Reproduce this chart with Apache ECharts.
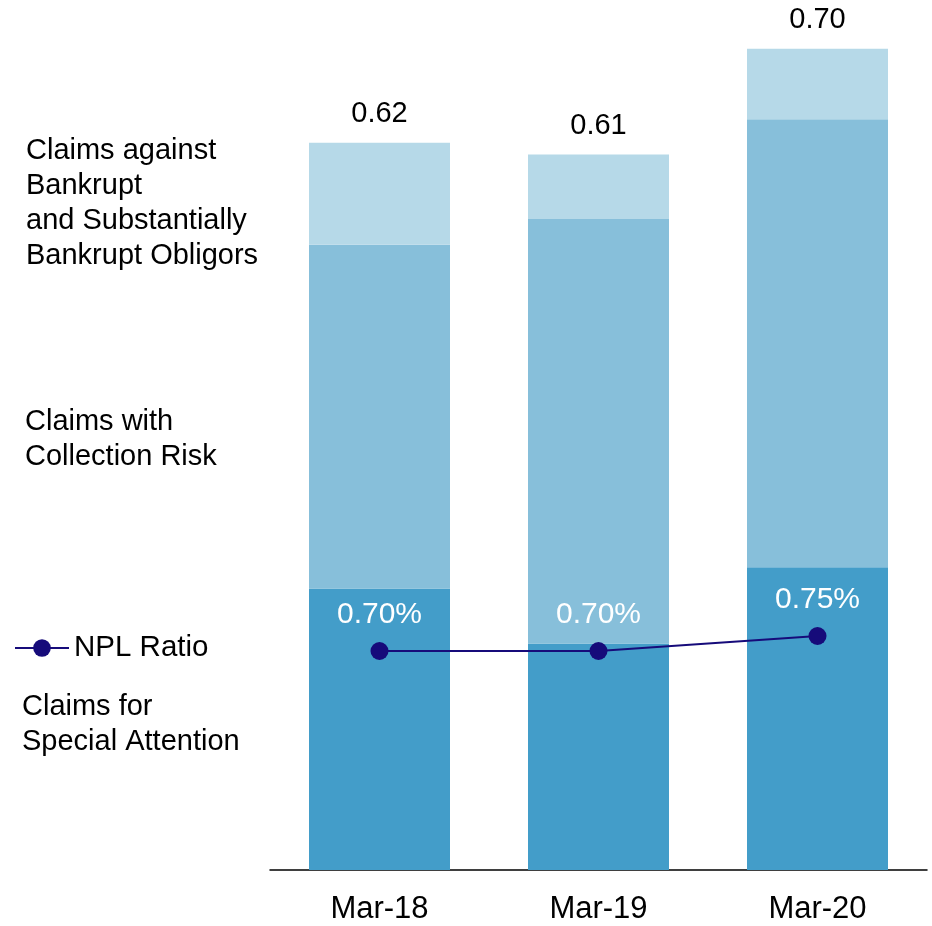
<!DOCTYPE html>
<html>
<head>
<meta charset="utf-8">
<script src="https://cdn.jsdelivr.net/npm/echarts@6/dist/echarts.min.js"></script>
<style>
  html, body { margin: 0; padding: 0; background: #ffffff; }
  #chart { width: 932px; height: 926px; }
</style>
</head>
<body>
<div id="chart"></div>
<script>
// Fiscal year-ends
const categories = ['Mar-18', 'Mar-19', 'Mar-20'];
// Non-performing loan components (trillion yen), stacked bottom to top
const specialAttention = [0.240, 0.193, 0.258];
const collectionRisk = [0.293, 0.362, 0.382];
const totals = [0.62, 0.61, 0.70];
const bankrupt = totals.map((t, i) => +(t - specialAttention[i] - collectionRisk[i]).toFixed(3));
// NPL ratio (%)
const nplRatio = [0.70, 0.70, 0.75];

const FONT = "'Liberation Sans', Arial, sans-serif";
const chart = echarts.init(document.getElementById('chart'));

chart.setOption({
  animation: false,
  backgroundColor: '#ffffff',
  textStyle: { fontFamily: FONT },
  grid: { left: 270, right: 5, top: 23, bottom: 56, containLabel: false },
  legend: {
    data: ['NPL Ratio'],
    left: 14, top: 633, padding: 0,
    itemWidth: 54, itemHeight: 22,
    textStyle: { fontSize: 29.5, color: '#000000', fontFamily: FONT },
    selectedMode: false
  },
  xAxis: {
    type: 'category',
    data: categories,
    axisLine: { lineStyle: { color: '#000000', width: 1.5 } },
    axisTick: { show: false },
    axisLabel: { fontSize: 31, color: '#000000', margin: 24, fontFamily: FONT }
  },
  yAxis: [
    { type: 'value', min: 0, max: 0.722, show: false, splitLine: { show: false } },
    { type: 'value', min: -0.03, max: 2.7933, show: false, splitLine: { show: false } }
  ],
  series: [
    {
      name: 'Claims for Special Attention', type: 'bar', stack: 'npl',
      data: specialAttention, barWidth: 141,
      itemStyle: { color: '#439dc9' }
    },
    {
      name: 'Claims with Collection Risk', type: 'bar', stack: 'npl',
      data: collectionRisk, barWidth: 141,
      itemStyle: { color: '#87bfda' }
    },
    {
      name: 'Claims against Bankrupt and Substantially Bankrupt Obligors', type: 'bar', stack: 'npl',
      data: bankrupt, barWidth: 141,
      itemStyle: { color: '#b6d9e8' },
      label: {
        show: true, position: 'top', distance: 14,
        formatter: p => totals[p.dataIndex].toFixed(2),
        fontSize: 29, color: '#000000', fontFamily: FONT
      }
    },
    {
      name: 'NPL Ratio', type: 'line', yAxisIndex: 1,
      data: nplRatio,
      symbol: 'circle', symbolSize: 18,
      lineStyle: { color: '#160b7a', width: 2 },
      itemStyle: { color: '#160b7a' },
      label: {
        show: true, position: 'top', distance: 12,
        formatter: p => p.value.toFixed(2) + '%',
        fontSize: 30, color: '#ffffff', fontFamily: FONT
      },
      z: 5
    }
  ],
  graphic: [
    {
      type: 'text', left: 26, top: 133,
      style: {
        text: 'Claims against\nBankrupt\nand Substantially\nBankrupt Obligors',
        font: "29px 'Liberation Sans', Arial, sans-serif", lineHeight: 35, fill: '#000000'
      }
    },
    {
      type: 'text', left: 25, top: 404,
      style: {
        text: 'Claims with\nCollection Risk',
        font: "29px 'Liberation Sans', Arial, sans-serif", lineHeight: 35, fill: '#000000'
      }
    },
    {
      type: 'text', left: 22, top: 689,
      style: {
        text: 'Claims for\nSpecial Attention',
        font: "29px 'Liberation Sans', Arial, sans-serif", lineHeight: 35, fill: '#000000'
      }
    }
  ]
});
</script>
</body>
</html>
